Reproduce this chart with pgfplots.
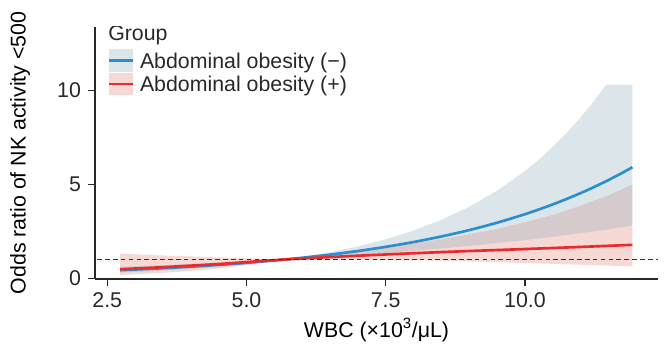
\documentclass[border=0pt]{standalone}
\usepackage{fontspec}
\setmainfont{Liberation Sans}
\usepackage{pgfplots}
\pgfplotsset{compat=1.18}
\usepgfplotslibrary{fillbetween}
\usepackage{pgfplotstable}

\definecolor{lineblue}{RGB}{44,143,204}
\definecolor{linered}{RGB}{234,43,46}
\definecolor{bandblue}{RGB}{138,172,185}
\definecolor{bandbluekey}{RGB}{220,230,234}
\definecolor{bandred}{RGB}{246,216,213}
\definecolor{axgray}{RGB}{40,40,40}

% x  OR  lower  upper   (Abdominal obesity -)
\pgfplotstableread{
x      or      lo      hi
2.73   0.4289  0.3003  0.6126
3.0    0.4633  0.3350  0.6405
3.5    0.5342  0.4102  0.6956
4.0    0.6160  0.5023  0.7554
4.5    0.7103  0.6151  0.8204
5.0    0.8191  0.7532  0.8909
5.5    0.9446  0.9222  0.9675
5.7    1.0000  1.0000  1.0000
6.0    1.0893  1.0507  1.1292
6.5    1.2561  1.1411  1.3826
7.0    1.4484  1.2392  1.6930
7.5    1.6703  1.3458  2.0730
8.0    1.9261  1.4616  2.5383
8.5    2.2211  1.5872  3.1080
9.0    2.5613  1.7238  3.8058
9.5    2.9536  1.8720  4.6600
10.0   3.4059  2.0330  5.7063
10.25  3.6574  2.1186  6.3138
10.5   3.9275  2.2078  6.9865
10.75  4.2175  2.3008  7.7310
11.0   4.5290  2.3977  8.5548
11.2   4.7950  2.4780  9.2770
11.4   5.0760  2.5613  10.059
11.46  5.1630  2.5868  10.300
11.7   5.5290  2.6912  10.300
11.93  5.9040  2.7955  10.300
}\tblneg

% x  OR  lower  upper   (Abdominal obesity +)
\pgfplotstableread{
x      or      lo      hi
2.73   0.4800  0.1766  1.3047
3.0    0.5169  0.2101  1.2712
3.5    0.5886  0.2865  1.2092
4.0    0.6703  0.3867  1.1618
4.5    0.7558  0.5169  1.1052
5.0    0.8607  0.6977  1.0618
5.5    0.9608  0.9048  1.0202
5.7    1.0000  1.0000  1.0000
6.0    1.0513  1.0000  1.1052
6.5    1.1275  1.0000  1.2712
7.0    1.1972  0.9900  1.4477
7.5    1.2649  0.9753  1.6405
8.0    1.3298  0.9560  1.8497
8.5    1.3910  0.9324  2.0751
9.0    1.4477  0.8958  2.3396
9.5    1.4993  0.8564  2.6247
10.0   1.5527  0.8106  2.9743
10.5   1.6080  0.7672  3.3703
11.0   1.6653  0.7189  3.8574
11.5   1.7246  0.6737  4.4150
11.93  1.7771  0.6344  4.9779
}\tblpos

\begin{document}
\fontsize{16}{19}\selectfont
\begin{tikzpicture}
\begin{axis}[
  scale only axis,
  width=422.25pt, height=189.2pt,
  xmin=2.28, xmax=12.39, ymin=-0.04, ymax=13.38,
  axis x line*=bottom, axis y line*=left,
  axis line style={line width=1.1pt, color=axgray, -},
  xtick={2.5,5,7.5,10}, xticklabels={2.5,5.0,7.5,10.0},
  ytick={0,5,10},
  tick align=outside,
  major tick length=5pt,
  tick style={line width=1.1pt, color=axgray},
  ticklabel style={font=\fontsize{16}{19}\selectfont, color=axgray},
  /pgf/number format/assume math mode=true,
  xlabel={WBC (×10\textsuperscript{3}/μL)},
  ylabel={Odds ratio of NK activity <500},
  label style={font=\fontsize{16}{19}\selectfont, color=axgray},
  every axis x label/.style={at={(axis description cs:0.5,-0.202)}, anchor=center},
  every axis y label/.style={at={(axis description cs:-0.133,0.5)}, rotate=90, anchor=center},
  legend style={at={(axis description cs:0.0231,0.912)}, anchor=north west,
    draw=none, fill=none, inner sep=0pt, outer sep=0pt, row sep=0.5pt,
    font=\fontsize{16}{19}\selectfont, text=axgray,
    nodes={inner sep=0pt, outer sep=0pt},
    /tikz/every odd column/.append style={column sep=4pt}},
  legend cell align=left,
  clip=true,
]
% red band (bottom layer)
\addplot[name path=rhi, draw=none, forget plot] table[x=x, y=hi] {\tblpos};
\addplot[name path=rlo, draw=none, forget plot] table[x=x, y=lo] {\tblpos};
\addplot[fill=bandred, draw=none, forget plot] fill between[of=rhi and rlo];
% blue band
\addplot[name path=bhi, draw=none, forget plot] table[x=x, y=hi] {\tblneg};
\addplot[name path=blo, draw=none, forget plot] table[x=x, y=lo] {\tblneg};
\addplot[fill=bandblue, fill opacity=0.3, draw=none, forget plot] fill between[of=bhi and blo];
% lines
\addplot[lineblue, line width=2pt, smooth, forget plot] table[x=x, y=or] {\tblneg};
\addplot[linered, line width=2pt, smooth, forget plot] table[x=x, y=or] {\tblpos};
% reference line
\addplot[axgray!95, line width=1.25pt, dash pattern=on 3.5pt off 2.4pt, forget plot] coordinates {(2.32,1) (12.39,1)};

\addlegendimage{legend image code/.code={
  \path[fill=bandbluekey, draw=none] (0pt,-7.3pt) rectangle (18pt,9.9pt);
  \draw[lineblue, line width=2pt] (0pt,1.3pt) -- (18pt,1.3pt);}}
\addlegendentry{Abdominal obesity (−)}
\addlegendimage{legend image code/.code={
  \path[fill=bandred, draw=none] (0pt,-7.3pt) rectangle (18pt,9.9pt);
  \draw[linered, line width=2pt] (0pt,1.3pt) -- (18pt,1.3pt);}}
\addlegendentry{Abdominal obesity (+)}

\node[anchor=base west, inner sep=0pt, text=axgray] at (axis description cs:0.0231,0.944) {Group};
\end{axis}
\pgfresetboundingbox
\path[use as bounding box] (-71.25pt,-53.25pt) rectangle (430.5pt,209.25pt);
\end{tikzpicture}
\end{document}
